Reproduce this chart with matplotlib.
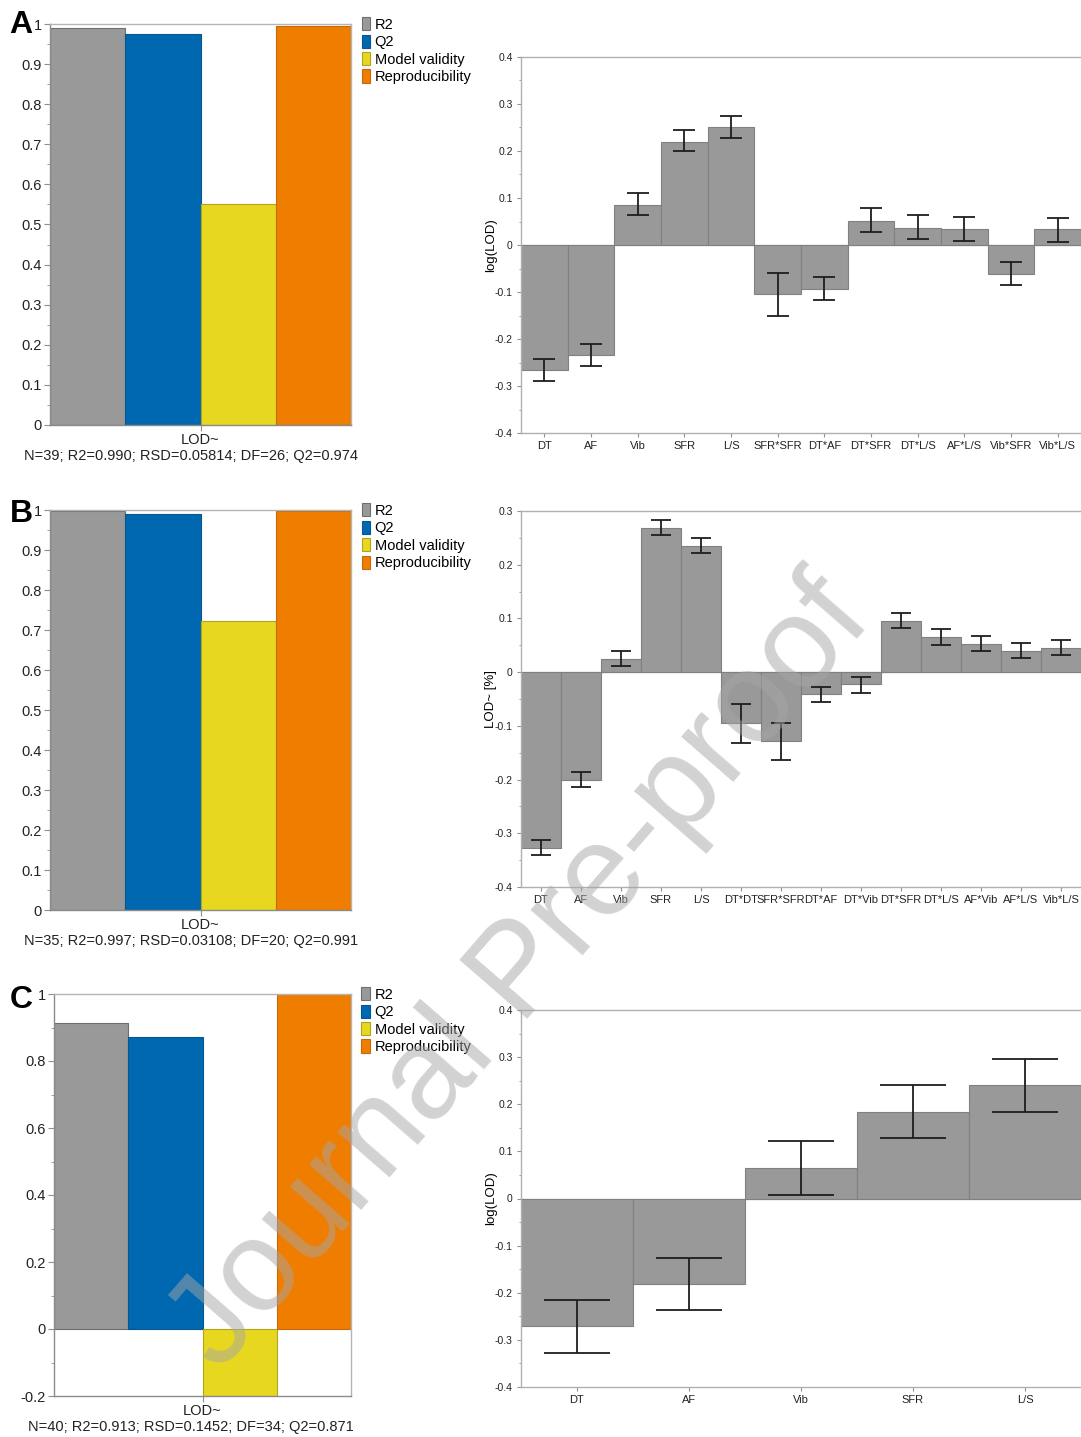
import numpy as np
import matplotlib.pyplot as plt
from matplotlib.ticker import MultipleLocator, FuncFormatter

plt.rcParams['font.family'] = ['Liberation Sans', 'DejaVu Sans']

W, H = 1081, 1437

# --- data ---
summary_labels = ["R2", "Q2", "Model validity", "Reproducibility"]
summary_colors = ["#999999", "#0068b1", "#e7d81f", "#ef7d00"]
summary_edges = ["#6f6f6f", "#0a5590", "#b0a420", "#c46a0a"]

a_summary = [0.990, 0.974, 0.550, 0.995]
b_summary = [0.997, 0.991, 0.722, 0.997]
c_summary = [0.913, 0.871, -0.200, 1.000]

a_stats = "N=39; R2=0.990; RSD=0.05814; DF=26; Q2=0.974"
b_stats = "N=35; R2=0.997; RSD=0.03108; DF=20; Q2=0.991"
c_stats = "N=40; R2=0.913; RSD=0.1452; DF=34; Q2=0.871"

a_terms = ["DT", "AF", "Vib", "SFR", "L/S", "SFR*SFR", "DT*AF", "DT*SFR",
           "DT*L/S", "AF*L/S", "Vib*SFR", "Vib*L/S"]
a_coef = [-0.266, -0.234, 0.086, 0.220, 0.251, -0.105, -0.093, 0.052,
          0.037, 0.034, -0.061, 0.033]
a_lo = [-0.289, -0.258, 0.063, 0.199, 0.228, -0.150, -0.117, 0.028,
        0.012, 0.009, -0.086, 0.007]
a_hi = [-0.242, -0.211, 0.110, 0.245, 0.274, -0.060, -0.068, 0.078,
        0.063, 0.059, -0.037, 0.058]

b_terms = ["DT", "AF", "Vib", "SFR", "L/S", "DT*DT", "SFR*SFR", "DT*AF",
           "DT*Vib", "DT*SFR", "DT*L/S", "AF*Vib", "AF*L/S", "Vib*L/S"]
b_coef = [-0.327, -0.200, 0.025, 0.269, 0.235, -0.094, -0.129, -0.041,
          -0.022, 0.096, 0.065, 0.053, 0.040, 0.045]
b_lo = [-0.340, -0.214, 0.012, 0.255, 0.222, -0.132, -0.164, -0.056,
        -0.038, 0.082, 0.050, 0.040, 0.026, 0.032]
b_hi = [-0.313, -0.186, 0.040, 0.284, 0.250, -0.059, -0.094, -0.027,
        -0.009, 0.111, 0.080, 0.068, 0.055, 0.060]

c_terms = ["DT", "AF", "Vib", "SFR", "L/S"]
c_coef = [-0.271, -0.182, 0.064, 0.184, 0.241]
c_lo = [-0.327, -0.237, 0.008, 0.129, 0.184]
c_hi = [-0.215, -0.126, 0.122, 0.240, 0.297]


def px_axes(fig, left, top, right, bottom):
    return fig.add_axes([left / W, 1 - bottom / H, (right - left) / W, (bottom - top) / H])


fmt = FuncFormatter(lambda v, p: f"{round(v, 3):g}")


def summary_panel(ax, values, stats, ylim, major, minor, label_x):
    x = np.arange(len(values)) - 1.5
    ax.bar(x, values, width=1.0, color=summary_colors, edgecolor=summary_edges,
           linewidth=0.8, label=summary_labels, zorder=2)
    ax.set_xlim(-2, 2)
    ax.set_ylim(*ylim)
    ax.set_xticks([0])
    ax.set_xticklabels(["LOD~"])
    ax.set_xlabel(stats, fontsize=10.5, labelpad=1, color="#222222", x=label_x)
    ax.yaxis.set_major_locator(MultipleLocator(major))
    ax.yaxis.set_minor_locator(MultipleLocator(minor))
    ax.yaxis.set_major_formatter(fmt)
    ax.tick_params(axis='both', labelsize=10.5, length=4, color="#909090",
                   labelcolor="#222222", pad=2)
    ax.tick_params(axis='y', which='minor', length=2, color="#909090")
    for s in ax.spines.values():
        s.set_color("#b5b5b5")
        s.set_linewidth(1.0)
    ax.spines['left'].set_color("#8a8a8a")
    ax.spines['bottom'].set_color("#8a8a8a")
    ax.legend(loc='upper left', bbox_to_anchor=(1.035, 1.017), frameon=False,
              fontsize=10.5, handlelength=0.6, handleheight=1.0,
              handletextpad=0.3, labelspacing=0.2, borderaxespad=0,
              borderpad=0)


def effect_panel(ax, terms, coef, lo, hi, ylim, ylabel, cap):
    x = np.arange(len(terms))
    coef = np.array(coef)
    yerr = [coef - np.array(lo), np.array(hi) - coef]
    ax.bar(x, coef, width=1.0, color="#999999", edgecolor="#808080",
           linewidth=0.8, zorder=2)
    ax.errorbar(x, coef, yerr=yerr, fmt='none', ecolor="#1e1e1e",
                elinewidth=1.3, capsize=cap, capthick=1.3, zorder=3)
    ax.axhline(0, color="#c8c8c8", lw=1.0, zorder=1)
    ax.set_xlim(-0.5, len(terms) - 0.5)
    ax.set_ylim(*ylim)
    ax.set_xticks(x)
    ax.set_xticklabels(terms)
    ax.yaxis.set_major_locator(MultipleLocator(0.1))
    ax.yaxis.set_minor_locator(MultipleLocator(0.05))
    ax.yaxis.set_major_formatter(fmt)
    ax.set_ylabel(ylabel, fontsize=9.5)
    ax.yaxis.set_label_coords(-0.043, 0.5)
    ax.tick_params(axis='x', labelsize=8, length=3, color="#909090",
                   labelcolor="#222222", pad=3)
    ax.tick_params(axis='y', labelsize=7.5, length=3, color="#909090",
                   labelcolor="#222222", pad=3)
    ax.tick_params(axis='y', which='minor', length=1.5, color="#909090")
    ax.spines['right'].set_visible(False)
    for s in ['left', 'bottom', 'top']:
        ax.spines[s].set_color("#b0b0b0")
        ax.spines[s].set_linewidth(1.0)


fig = plt.figure(figsize=(W / 100, H / 100), dpi=100)
fig.patch.set_facecolor("white")

ax = px_axes(fig, 50, 24, 351, 425)
summary_panel(ax, a_summary, a_stats, (0, 1), 0.1, 0.05, 0.468)
ax = px_axes(fig, 50, 510, 351, 910)
summary_panel(ax, b_summary, b_stats, (0, 1), 0.1, 0.05, 0.468)
ax = px_axes(fig, 54, 994, 351, 1396)
summary_panel(ax, c_summary, c_stats, (-0.2, 1), 0.2, 0.1, 0.461)

ax = px_axes(fig, 521, 57, 1081, 433)
effect_panel(ax, a_terms, a_coef, a_lo, a_hi, (-0.4, 0.4), "log(LOD)", 8)
ax = px_axes(fig, 521, 511, 1081, 887)
effect_panel(ax, b_terms, b_coef, b_lo, b_hi, (-0.4, 0.3), "LOD~ [%]", 7.5)
ax = px_axes(fig, 521, 1010, 1081, 1387)
effect_panel(ax, c_terms, c_coef, c_lo, c_hi, (-0.4, 0.4), "log(LOD)", 24)

# panel letters
for letter, base in [("A", 33), ("B", 522), ("C", 1008)]:
    fig.text(21 / W, 1 - base / H, letter, fontsize=23, fontweight='bold',
             ha='center', va='baseline')

# watermark
fig.text(522 / W, 1 - 975 / H, "Journal Pre-proof", rotation=49,
         rotation_mode='anchor', fontsize=93, color="#a6a6a6", alpha=0.5,
         ha='center', va='center', zorder=100)

fig.savefig("out.png", dpi=100)
